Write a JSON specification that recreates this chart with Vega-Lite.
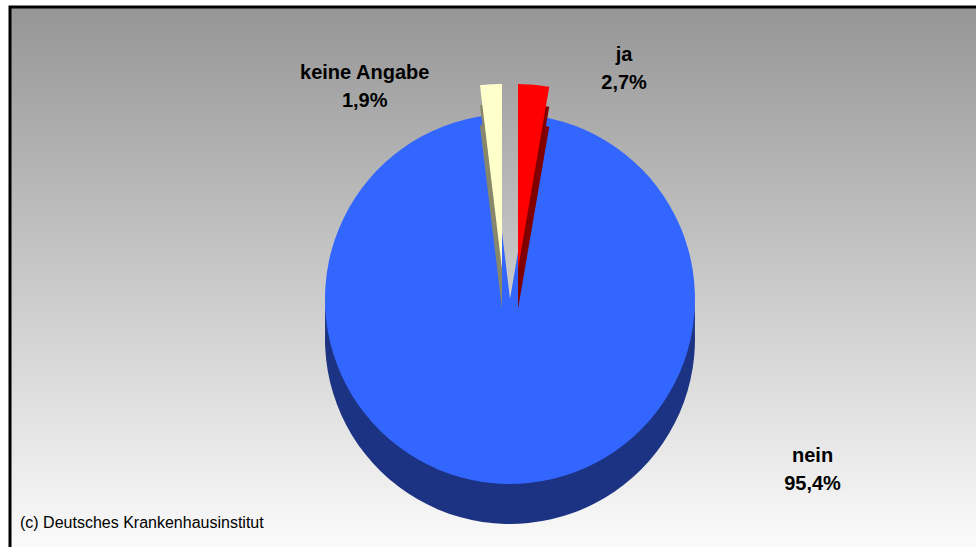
{
  "$schema": "https://vega.github.io/schema/vega-lite/v6.json",
  "width": 976,
  "height": 547,
  "autosize": {"type": "fit", "contains": "padding"},
  "padding": {"left": 8, "top": 5, "right": -6, "bottom": -6},
  "background": "white",
  "config": {
    "view": {"stroke": null},
    "font": "Liberation Sans"
  },
  "title": {
    "text": "(c) Deutsches Krankenhausinstitut",
    "orient": "bottom",
    "anchor": "start",
    "frame": "group",
    "offset": -38,
    "dx": 10,
    "fontSize": 16,
    "fontWeight": "normal",
    "color": "#000000",
    "font": "Liberation Sans"
  },
  "data": {
    "values": [
      {"answer": "ja", "pct": 2.7, "order": 1},
      {"answer": "nein", "pct": 95.4, "order": 2},
      {"answer": "keine Angabe", "pct": 1.9, "order": 3}
    ]
  },
  "transform": [
    {"stack": "pct", "groupby": [], "sort": [{"field": "order"}], "as": ["start", "end"]},
    {"calculate": "(datum.start + datum.end) / 2", "as": "mid"},
    {"calculate": "datum.answer + '\\n' + replace(format(datum.pct, '.1f'), '.', ',') + '%'", "as": "label"}
  ],
  "encoding": {
    "theta": {"field": "start", "type": "quantitative", "scale": {"domain": [0, 100]}},
    "theta2": {"field": "end"}
  },
  "layer": [
    {
      "transform": [{"filter": "datum.order == 1"}],
      "mark": {
        "type": "rect",
        "stroke": "#000000",
        "strokeWidth": 3,
        "color": {"gradient": "linear", "x1": 0, "y1": 0, "x2": 0, "y2": 1, "stops": [{"offset": 0, "color": "#969696"}, {"offset": 1, "color": "#fbfbfb"}]}
      },
      "encoding": {"theta": null, "theta2": null}
    },
    {"transform": [{"filter": "datum.answer == 'nein'"}], "mark": {"type": "arc", "radius": 185, "yOffset": 60, "xOffset": 15, "color": "#1c3383"}},
    {"transform": [{"filter": "datum.answer == 'nein'"}], "mark": {"type": "arc", "radius": 185, "yOffset": 40, "xOffset": 15, "color": "#1c3383"}},
    {"transform": [{"filter": "datum.answer == 'nein'"}], "mark": {"type": "arc", "radius": 185, "yOffset": 20, "xOffset": 15, "color": "#3366ff"}},
    {"transform": [{"filter": "datum.answer == 'ja'"}], "mark": {"type": "arc", "radius": 185, "yOffset": 30, "xOffset": 23, "color": "#800000"}},
    {"transform": [{"filter": "datum.answer == 'ja'"}], "mark": {"type": "arc", "radius": 185, "yOffset": 10, "xOffset": 23, "color": "#800000"}},
    {"transform": [{"filter": "datum.answer == 'ja'"}], "mark": {"type": "arc", "radius": 185, "yOffset": -10, "xOffset": 23, "color": "#ff0000"}},
    {"transform": [{"filter": "datum.answer == 'keine Angabe'"}], "mark": {"type": "arc", "radius": 185, "yOffset": 30, "xOffset": 7, "color": "#87876b"}},
    {"transform": [{"filter": "datum.answer == 'keine Angabe'"}], "mark": {"type": "arc", "radius": 185, "yOffset": 10, "xOffset": 7, "color": "#87876b"}},
    {"transform": [{"filter": "datum.answer == 'keine Angabe'"}], "mark": {"type": "arc", "radius": 185, "yOffset": -10, "xOffset": 7, "color": "#ffffcc"}},
    {
      "transform": [{"filter": "datum.answer == 'ja'"}],
      "mark": {"type": "text", "radius": 225, "dx": 110, "fontSize": 20, "fontWeight": "bold", "lineBreak": "\n", "lineHeight": 28, "color": "#000000"},
      "encoding": {"theta": {"field": "mid", "type": "quantitative", "scale": {"domain": [0, 100]}}, "theta2": null, "text": {"field": "label"}}
    },
    {
      "transform": [{"filter": "datum.answer == 'keine Angabe'"}],
      "mark": {"type": "text", "radius": 206, "dx": -118, "fontSize": 20, "fontWeight": "bold", "lineBreak": "\n", "lineHeight": 28, "color": "#000000"},
      "encoding": {"theta": {"field": "mid", "type": "quantitative", "scale": {"domain": [0, 100]}}, "theta2": null, "text": {"field": "label"}}
    },
    {
      "transform": [{"filter": "datum.answer == 'nein'"}],
      "mark": {"type": "text", "radius": 177, "dx": 322, "fontSize": 20, "fontWeight": "bold", "lineBreak": "\n", "lineHeight": 28, "color": "#000000"},
      "encoding": {"theta": {"field": "mid", "type": "quantitative", "scale": {"domain": [0, 100]}}, "theta2": null, "text": {"field": "label"}}
    }
  ]
}
